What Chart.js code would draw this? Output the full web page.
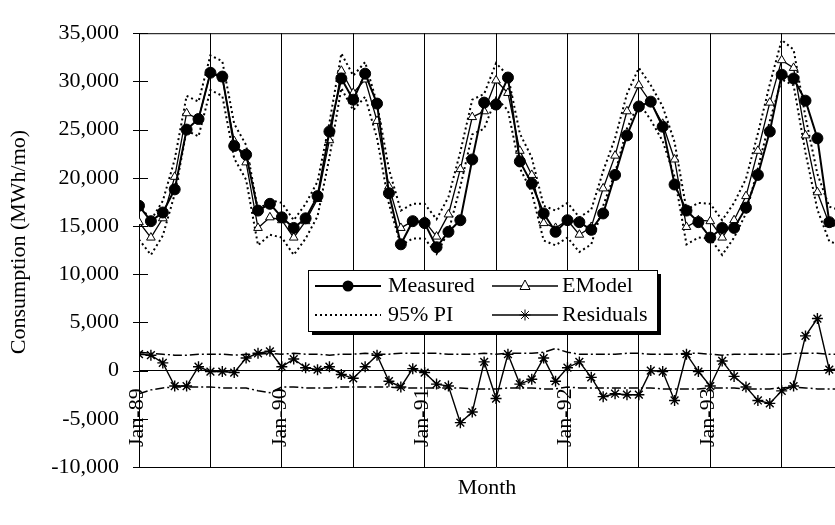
<!DOCTYPE html>
<html>
<head>
<meta charset="utf-8">
<script src="https://cdn.jsdelivr.net/npm/chart.js@4.4.1/dist/chart.umd.min.js"></script>
<style>
  html, body { margin: 0; padding: 0; background: #fff; overflow: hidden; }
  #wrap { width: 835px; height: 525px; overflow: hidden; }
</style>
</head>
<body>
<div id="wrap"><canvas id="grafico" width="860" height="525"></canvas></div>
<script>
// Datos (meses desde Jan-89)
const janLabels = ["Jan-89", "Jan-90", "Jan-91", "Jan-92", "Jan-93"];
const janIndex = [0, 12, 24, 36, 48];

const measured = [17100, 15500, 16400, 18800, 25000, 26100, 30900, 30500, 23300, 22400, 16600, 17300,
                  15900, 14800, 15800, 18100, 24800, 30300, 28100, 30800, 27700, 18400, 13100, 15500,
                  15300, 12800, 14400, 15600, 21900, 27800, 27600, 30400, 21700, 19400, 16300, 14400,
                  15600, 15400, 14600, 16300, 20300, 24400, 27400, 27900, 25300, 19300, 16600, 15400,
                  13800, 14800, 14800, 16900, 20300, 24800, 30700, 30300, 28000, 24100, 15400, 15000];

const emodel = [15400, 13800, 15800, 20100, 26700, 26100, 30900, 30300, 23800, 21600, 14800, 15900,
                15600, 13800, 15500, 17800, 23900, 31100, 28800, 30200, 25900, 19100, 14800, 15500,
                15500, 13900, 16200, 20900, 26300, 26900, 30100, 28800, 22800, 20300, 15300, 14800,
                15600, 14100, 14900, 18900, 22300, 26900, 29600, 27800, 25600, 21900, 14900, 15600,
                15500, 13800, 15600, 18100, 22800, 27800, 32200, 31400, 24400, 18500, 15200, 14800];

const piUpper = [17200, 15600, 17600, 21900, 28500, 27900, 32700, 32100, 25600, 23400, 16600, 17700,
                 17400, 15600, 17300, 19600, 25700, 32900, 30600, 32000, 27700, 20900, 16600, 17300,
                 17300, 15700, 18000, 22700, 28100, 28700, 31900, 30600, 24600, 22100, 17100, 16600,
                 17400, 15900, 16700, 20700, 24100, 28700, 31400, 29600, 27400, 23700, 16700, 17400,
                 17300, 15600, 17400, 19900, 24600, 29700, 34300, 33300, 26300, 20400, 17000, 16600];

const piLower = [13600, 12000, 14000, 18300, 24900, 24300, 29100, 28500, 22000, 19800, 13000, 14100,
                 13800, 12000, 13700, 16000, 22100, 29300, 27000, 28400, 24100, 17300, 13000, 13700,
                 13700, 12100, 14400, 19100, 24500, 25100, 28300, 27000, 21000, 18500, 13500, 13000,
                 13800, 12300, 13100, 17100, 20500, 25100, 27800, 26000, 23800, 20100, 13100, 13800,
                 13700, 12000, 13800, 16300, 21000, 25900, 30200, 29600, 22600, 16700, 13400, 13000];

const residuals = [1700, 1600, 800, -1600, -1600, 400, -100, -100, -200, 1300, 1800, 2000,
                   400, 1200, 300, 100, 400, -400, -800, 400, 1600, -1100, -1700, 200,
                   -200, -1400, -1600, -5400, -4300, 900, -2900, 1700, -1400, -900, 1300, -1100,
                   300, 900, -700, -2700, -2400, -2500, -2500, 0, -100, -3100, 1700, -100,
                   -1600, 1000, -600, -1700, -3100, -3400, -2100, -1600, 3600, 5400, 100, 200];

const resUpper = [1900, 1800, 1700, 1600, 1600, 1700, 1700, 1700, 1600, 1700, 1700, 1800,
                  1700, 1800, 1700, 1700, 1600, 1700, 1700, 1800, 1700, 1700, 1800, 1800,
                  1800, 1800, 1700, 1700, 1700, 1800, 1700, 1800, 1800, 1800, 1900, 2300,
                  1900, 1700, 1700, 1700, 1700, 1800, 1800, 1700, 1700, 1700, 1800, 1800,
                  1700, 1600, 1700, 1700, 1700, 1700, 1700, 1800, 1800, 1800, 1700, 1700];

const resLower = [-2400, -2000, -1800, -1700, -1700, -1700, -1700, -1800, -1800, -1800, -2100, -2300,
                  -1700, -1700, -1800, -1800, -1800, -1700, -1700, -1700, -1700, -1700, -1800, -1800,
                  -1800, -1800, -1800, -1800, -1900, -1900, -1900, -1800, -1800, -1800, -1900, -1900,
                  -1700, -1800, -1800, -1800, -1800, -1800, -1800, -1800, -1900, -1900, -1900, -1900,
                  -1800, -1800, -1800, -1900, -1900, -1900, -1800, -1700, -1800, -1900, -1900, -1900];

const FONT = "'Liberation Serif', 'Times New Roman', serif";
const pts = (arr) => arr.map((v, i) => ({ x: i, y: v }));

// Textos y marcos que Chart.js no dibuja por sí solo
const extras = {
  id: "extras",
  afterDraw(chart) {
    const ctx = chart.ctx;
    const a = chart.chartArea;
    const xs = chart.scales.x, ys = chart.scales.y;
    ctx.save();
    ctx.strokeStyle = "#000";
    ctx.lineWidth = 1;
    // marco superior
    ctx.beginPath();
    ctx.moveTo(a.left, a.top + 0.5);
    ctx.lineTo(a.right, a.top + 0.5);
    ctx.stroke();
    // marcas del eje Y que cruzan el eje
    ys.ticks.forEach((t) => {
      const py = Math.round(ys.getPixelForValue(t.value)) + 0.5;
      ctx.beginPath();
      ctx.moveTo(a.left - 6, py);
      ctx.lineTo(a.left + 9, py);
      ctx.stroke();
    });
    // etiquetas de enero, giradas, dentro del área
    ctx.fillStyle = "#000";
    ctx.font = "22px " + FONT;
    ctx.textAlign = "left";
    ctx.textBaseline = "middle";
    janLabels.forEach((lab, k) => {
      const px = xs.getPixelForValue(janIndex[k]);
      ctx.save();
      ctx.translate(px - 2, 447);
      ctx.rotate(-Math.PI / 2);
      ctx.fillText(lab, 0, 0);
      ctx.restore();
    });
    // títulos
    ctx.textAlign = "center";
    ctx.fillText("Month", 487, 488);
    ctx.save();
    ctx.translate(19, 242);
    ctx.rotate(-Math.PI / 2);
    ctx.fillText("Consumption (MWh/mo)", 0, 0);
    ctx.restore();

    // leyenda con sombra
    const L = 308, T = 270, W = 349, H = 61;
    ctx.fillStyle = "#000";
    ctx.fillRect(L + 4, T + 4, W, H);
    ctx.fillStyle = "#fff";
    ctx.fillRect(L, T, W, H);
    ctx.strokeRect(L + 0.5, T + 0.5, W, H);

    const sample = (x1, y, dash, lw) => {
      ctx.save();
      ctx.setLineDash(dash);
      ctx.lineWidth = lw;
      ctx.beginPath();
      ctx.moveTo(x1, y);
      ctx.lineTo(x1 + 66, y);
      ctx.stroke();
      ctx.restore();
    };
    const r1 = 286, r2 = 315;
    sample(315, r1, [], 2);
    ctx.fillStyle = "#000";
    ctx.beginPath();
    ctx.arc(348, r1, 5.5, 0, Math.PI * 2);
    ctx.fill();

    sample(492, r1, [], 1.5);
    ctx.fillStyle = "#fff";
    ctx.beginPath();
    ctx.moveTo(525, r1 - 6);
    ctx.lineTo(530, r1 + 3.5);
    ctx.lineTo(520, r1 + 3.5);
    ctx.closePath();
    ctx.fill();
    ctx.stroke();

    sample(315, r2, [2, 3], 2);

    sample(492, r2, [], 1.5);
    ctx.beginPath();
    for (let k = 0; k < 4; k++) {
      const ang = k * Math.PI / 4;
      ctx.moveTo(525 - 5.5 * Math.cos(ang), r2 - 5.5 * Math.sin(ang));
      ctx.lineTo(525 + 5.5 * Math.cos(ang), r2 + 5.5 * Math.sin(ang));
    }
    ctx.stroke();

    ctx.fillStyle = "#000";
    ctx.textAlign = "left";
    ctx.fillText("Measured", 388, r1);
    ctx.fillText("EModel", 562, r1);
    ctx.fillText("95% PI", 388, r2);
    ctx.fillText("Residuals", 562, r2);
    ctx.restore();
  }
};

new Chart(document.getElementById("grafico"), {
  type: "line",
  data: {
    datasets: [
      {
        label: "Measured", data: pts(measured), order: 1,
        borderColor: "#000", borderWidth: 2,
        pointRadius: 5.5, pointBackgroundColor: "#000", pointBorderColor: "#000", pointBorderWidth: 1,
      },
      {
        label: "EModel", data: pts(emodel), order: 2,
        borderColor: "#000", borderWidth: 1.3,
        pointStyle: "triangle", pointRadius: 5, pointBackgroundColor: "#fff", pointBorderColor: "#000", pointBorderWidth: 1,
      },
      {
        label: "95% PI", data: pts(piUpper), order: 3,
        borderColor: "#000", borderWidth: 2, borderDash: [2, 3], pointRadius: 0,
      },
      {
        label: "95% PI inferior", data: pts(piLower), order: 3,
        borderColor: "#000", borderWidth: 2, borderDash: [2, 3], pointRadius: 0,
      },
      {
        label: "Residuals", data: pts(residuals), order: 1,
        borderColor: "#000", borderWidth: 1.4,
        pointStyle: "star", pointRadius: 5.5, pointBorderColor: "#000", pointBorderWidth: 1.4,
      },
      {
        label: "Banda residuos sup", data: pts(resUpper), order: 4,
        borderColor: "#000", borderWidth: 1.5, borderDash: [9, 3, 2, 3], pointRadius: 0,
      },
      {
        label: "Banda residuos inf", data: pts(resLower), order: 4,
        borderColor: "#000", borderWidth: 1.5, borderDash: [9, 3, 2, 3], pointRadius: 0,
      },
    ],
  },
  options: {
    responsive: false,
    animation: false,
    devicePixelRatio: 1,
    layout: { padding: { left: 0, top: 14, right: 0, bottom: 58 } },
    plugins: { legend: { display: false }, tooltip: { enabled: false } },
    scales: {
      x: {
        type: "linear", min: 0, max: 60,
        ticks: { stepSize: 6, display: false },
        grid: { color: "#000", lineWidth: 1, drawTicks: false },
        border: { color: "#000", width: 1 },
      },
      y: {
        min: -10000, max: 35000,
        afterFit(scale) { scale.width = 139; },
        ticks: {
          stepSize: 5000, padding: 20, color: "#000",
          font: { family: FONT, size: 22 },
          callback: (v) => v.toLocaleString("en-US"),
        },
        grid: {
          drawTicks: false,
          color: (c) => (c.tick && c.tick.value === 0 ? "#000" : "rgba(0,0,0,0)"),
        },
        border: { color: "#000", width: 1 },
      },
    },
  },
  plugins: [extras],
});
</script>
</body>
</html>
